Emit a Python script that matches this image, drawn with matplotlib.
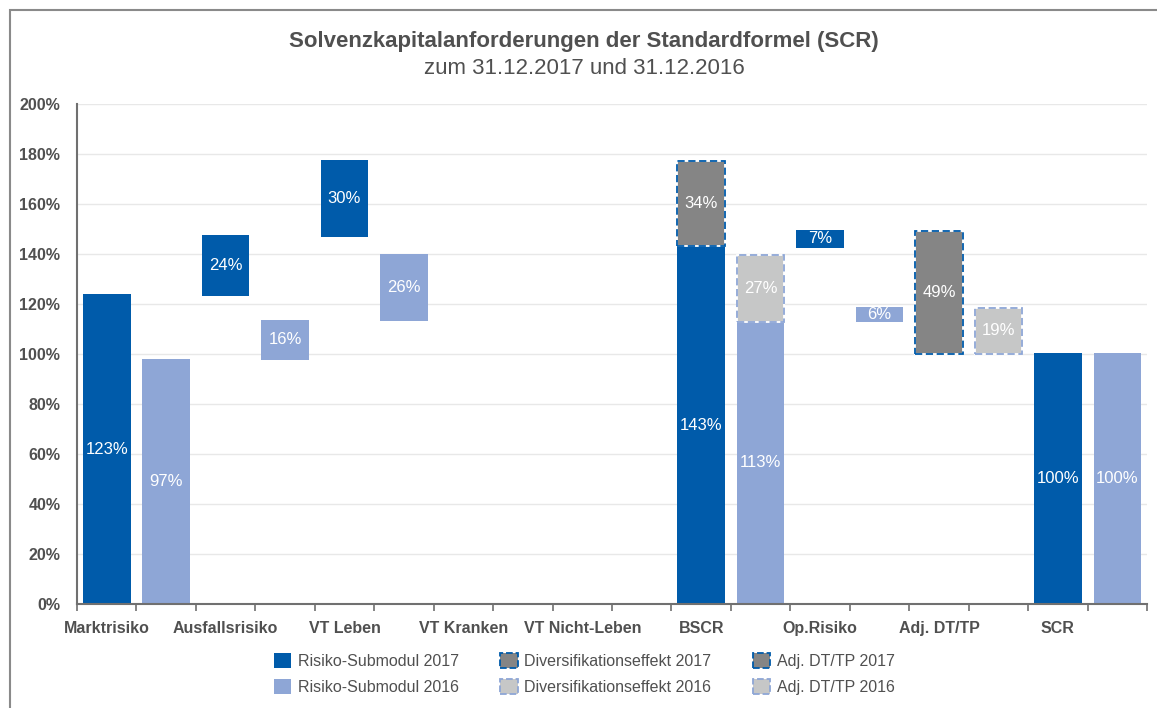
import numpy as np
import matplotlib
matplotlib.use('Agg')
import matplotlib.pyplot as plt
from matplotlib.patches import Patch, Rectangle

categories = ['Marktrisiko', 'Ausfallsrisiko', 'VT Leben', 'VT Kranken',
              'VT Nicht-Leben', 'BSCR', 'Op.Risiko', 'Adj. DT/TP', 'SCR']

# risk submodules (bottom, height, label) -- None where there is no bar
sub_2017_bottom = [0, 123.3, 147.0, None, None, 0, 142.6, None, 0]
sub_2017_height = [124.0, 24.3, 30.6, None, None, 143.2, 7.0, None, 100.4]
sub_2017_label = [123, 24, 30, None, None, 143, 7, None, 100]

sub_2016_bottom = [0, 97.5, 113.3, None, None, 0, 112.7, None, 0]
sub_2016_height = [98.0, 16.2, 26.5, None, None, 113.0, 6.2, None, 100.4]
sub_2016_label = [97, 16, 26, None, None, 113, 6, None, 100]

# diversification effect (BSCR) and adj. DT/TP
div_2017 = (143.2, 34.1, 34)
div_2016 = (113.0, 26.7, 27)
adj_2017 = (100.0, 49.3, 49)
adj_2016 = (100.0, 18.6, 19)

DARK_BLUE = '#005baa'
LIGHT_BLUE = '#8ea6d6'
DARK_GRAY = '#858585'
LIGHT_GRAY = '#c6c7c7'
TEXT = '#505050'

plt.rcParams['font.family'] = ['Liberation Sans', 'DejaVu Sans']

fig = plt.figure(figsize=(11.57, 7.08), dpi=100)
ax = fig.add_axes([77 / 1157, 1 - 604 / 708, 1070 / 1157, 500 / 708])

width = 0.8


def bar_label(x, bottom, height, val):
    ax.text(x, bottom + height / 2, '%d%%' % val, ha='center', va='center',
            color='white', fontsize=12)


for i in range(len(categories)):
    if sub_2017_height[i] is not None:
        ax.bar(2 * i, sub_2017_height[i], width, bottom=sub_2017_bottom[i],
               color=DARK_BLUE, zorder=3)
        bar_label(2 * i, sub_2017_bottom[i], sub_2017_height[i], sub_2017_label[i])
    if sub_2016_height[i] is not None:
        ax.bar(2 * i + 1, sub_2016_height[i], width, bottom=sub_2016_bottom[i],
               color=LIGHT_BLUE, zorder=3)
        bar_label(2 * i + 1, sub_2016_bottom[i], sub_2016_height[i], sub_2016_label[i])


def dashed_bar(x, vals, face, edge):
    bottom, height, val = vals
    ax.bar(x, height, width, bottom=bottom, color=face, edgecolor='white',
           linewidth=1.3, zorder=3)
    ax.bar(x, height, width, bottom=bottom, fill=False, edgecolor=edge,
           linewidth=1.3, linestyle=(0, (4, 2)), zorder=4)
    bar_label(x, bottom, height, val)


bscr = categories.index('BSCR')
adj = categories.index('Adj. DT/TP')
dashed_bar(2 * bscr, div_2017, DARK_GRAY, DARK_BLUE)
dashed_bar(2 * bscr + 1, div_2016, LIGHT_GRAY, LIGHT_BLUE)
dashed_bar(2 * adj, adj_2017, DARK_GRAY, DARK_BLUE)
dashed_bar(2 * adj + 1, adj_2016, LIGHT_GRAY, LIGHT_BLUE)

ax.set_xlim(-0.5, 2 * len(categories) - 0.5)
ax.set_ylim(0, 200)
ax.set_yticks(np.arange(0, 201, 20))
ax.set_yticklabels(['%d%%' % v for v in np.arange(0, 201, 20)],
                   fontweight='bold', color=TEXT, fontsize=11.5)
ax.tick_params(axis='y', length=0, pad=12)
ax.grid(axis='y', color='#e8e8e8', linewidth=1, zorder=0)

ax.set_xticks(np.arange(len(categories)) * 2)
ax.set_xticklabels(categories, fontweight='bold', color=TEXT, fontsize=11.5)
ax.set_xticks(np.arange(-0.5, 2 * len(categories)), minor=True)
ax.tick_params(axis='x', which='major', length=0, pad=12)
ax.tick_params(axis='x', which='minor', length=5, color='#707070', width=1.2)

for s in ['top', 'right']:
    ax.spines[s].set_visible(False)
for s in ['left', 'bottom']:
    ax.spines[s].set_color('#707070')
    ax.spines[s].set_linewidth(1.5)
    ax.spines[s].set_zorder(5)

fig.text(0.505, 1 - 42 / 708, 'Solvenzkapitalanforderungen der Standardformel (SCR)',
         ha='center', va='center', fontsize=16, fontweight='bold', color=TEXT)
fig.text(0.505, 1 - 69 / 708, 'zum 31.12.2017 und 31.12.2016',
         ha='center', va='center', fontsize=16, color=TEXT)

handles = [
    Patch(facecolor=DARK_BLUE, edgecolor='none', label='Risiko-Submodul 2017'),
    Patch(facecolor=LIGHT_BLUE, edgecolor='none', label='Risiko-Submodul 2016'),
    Patch(facecolor=DARK_GRAY, edgecolor=DARK_BLUE, linestyle='--', linewidth=1.3,
          label='Diversifikationseffekt 2017'),
    Patch(facecolor=LIGHT_GRAY, edgecolor=LIGHT_BLUE, linestyle='--', linewidth=1.3,
          label='Diversifikationseffekt 2016'),
    Patch(facecolor=DARK_GRAY, edgecolor=DARK_BLUE, linestyle='--', linewidth=1.3,
          label='Adj. DT/TP 2017'),
    Patch(facecolor=LIGHT_GRAY, edgecolor=LIGHT_BLUE, linestyle='--', linewidth=1.3,
          label='Adj. DT/TP 2016'),
]
leg = fig.legend(handles=handles, ncol=3, loc='center', bbox_to_anchor=(0.505, 0.048),
                 frameon=False, fontsize=11.5, handlelength=1.1, handleheight=1.1,
                 handletextpad=0.4, columnspacing=2.6, labelspacing=0.6)
for t in leg.get_texts():
    t.set_color(TEXT)

# outer frame of the graphic
fig.patches.append(Rectangle((10 / 1157, -0.1), 1.2, 1.1 - 10 / 708,
                             transform=fig.transFigure, fill=False,
                             edgecolor='#8a8a8a', linewidth=1.5))

plt.savefig('out.png', dpi=100)
